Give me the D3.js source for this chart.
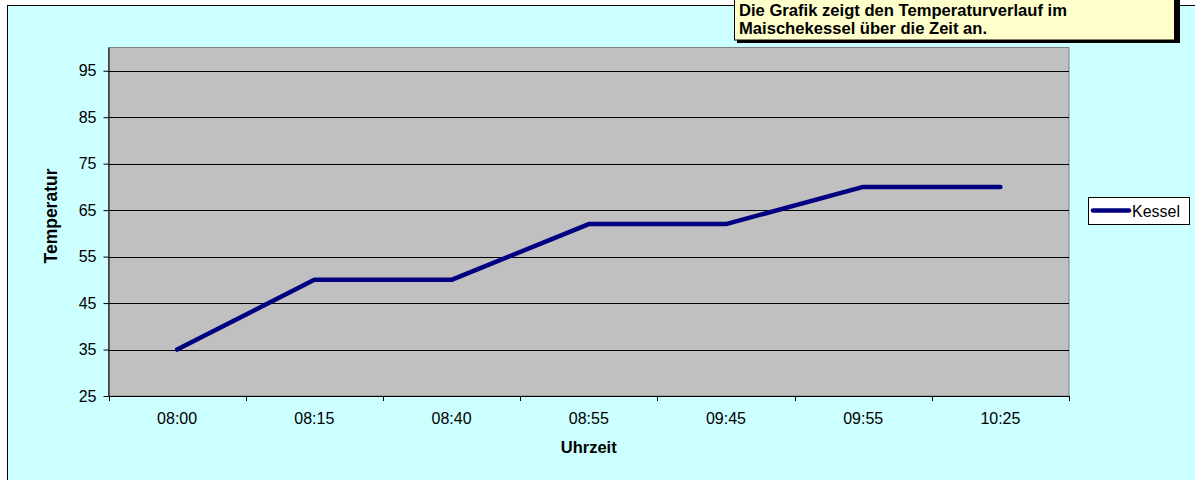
<!DOCTYPE html>
<html><head><meta charset="utf-8">
<script src="https://cdn.jsdelivr.net/npm/d3@7"></script>
<style>body{margin:0;background:#fff;overflow:hidden}svg{display:block;font-family:"Liberation Sans",Arial,sans-serif}</style>
</head><body><svg id="c" width="1195" height="480"></svg>
<script>
const categories = ["08:00","08:15","08:40","08:55","09:45","09:55","10:25"];
const kessel = [35,50,50,62,62,70,70];
const yTicks = [25,35,45,55,65,75,85,95];
const seriesName = "Kessel";
const note = ["Die Grafik zeigt den Temperaturverlauf im","Maischekessel über die Zeit an."];

const svg = d3.select("#c");
svg.append("rect").attr("x",7.5).attr("y",5.5).attr("width",1200).attr("height",490)
  .attr("fill","#ccffff").attr("stroke","#000").attr("stroke-width",1);

const L=108.5,R=1069,T=47.5,B=396;
const x = d3.scaleBand().domain(categories).range([L,R]);
const y = d3.scaleLinear().domain([25,100]).range([B,T]);

svg.append("rect").attr("x",L).attr("y",T).attr("width",R-L).attr("height",B-T)
  .attr("fill","#c0c0c0").attr("stroke","#808080").attr("stroke-width",1);

// gridlines
svg.append("g").selectAll("line").data(yTicks.slice(1)).join("line")
  .attr("x1",L).attr("x2",R).attr("y1",d=>Math.round(y(d))+0.5).attr("y2",d=>Math.round(y(d))+0.5)
  .attr("stroke","#000").attr("stroke-width",1);

// y axis
const ya = svg.append("g").attr("transform",`translate(${L},0)`)
  .call(d3.axisLeft(y).tickValues(yTicks).tickSize(5).tickSizeOuter(0).tickPadding(7));
ya.select(".domain").attr("stroke","#000");
ya.selectAll(".tick line").attr("stroke","#000");
ya.selectAll("text").attr("font-size",16).attr("fill","#000").attr("font-family","Liberation Sans, Arial, sans-serif");

// x axis
const xa = svg.append("g").attr("transform",`translate(0,${B})`)
  .call(d3.axisBottom(x).tickSize(0).tickPadding(17));
xa.select(".domain").attr("stroke","#000");
xa.selectAll("text").attr("font-size",16).attr("fill","#000").attr("font-family","Liberation Sans, Arial, sans-serif");
const bounds = categories.map(c=>x(c)).concat([R]);
svg.append("g").selectAll("line").data(bounds).join("line")
  .attr("x1",d=>Math.round(d)+0.5).attr("x2",d=>Math.round(d)+0.5).attr("y1",B).attr("y2",B+5)
  .attr("stroke","#000");

// line
const line = d3.line().x((d,i)=>x(categories[i])+x.bandwidth()/2).y(d=>y(d));
svg.append("path").datum(kessel).attr("d",line).attr("fill","none")
  .attr("stroke","#000080").attr("stroke-width",4.5).attr("stroke-linejoin","round").attr("stroke-linecap","round");

// axis titles
svg.append("text").attr("x",(L+R)/2).attr("y",453).attr("text-anchor","middle")
  .attr("font-size",16.5).attr("font-weight","bold").text("Uhrzeit");
svg.append("text").attr("transform",`translate(57,216) rotate(-90)`).attr("text-anchor","middle")
  .attr("font-size",17.5).attr("font-weight","bold").text("Temperatur");

// legend
const lg = svg.append("g");
lg.append("rect").attr("x",1088.5).attr("y",197.5).attr("width",101).attr("height",27)
  .attr("fill","#fff").attr("stroke","#000");
lg.append("line").attr("x1",1093).attr("x2",1129).attr("y1",210.5).attr("y2",210.5)
  .attr("stroke","#000080").attr("stroke-width",4.5).attr("stroke-linecap","round");
lg.append("text").attr("x",1132).attr("y",216.5).attr("font-size",16).text(seriesName);

// comment box
const cb = svg.append("g");
cb.append("rect").attr("x",737).attr("y",-5).attr("width",443).attr("height",48).attr("fill","#000");
cb.append("rect").attr("x",734.5).attr("y",-5).attr("width",440).attr("height",45)
  .attr("fill","#ffffcc").attr("stroke","#000");
cb.selectAll("text.n").data(note).join("text").attr("class","n")
  .attr("x",739).attr("y",(d,i)=>15.5+i*18.5).attr("font-size",16.6).attr("font-weight","bold").text(d=>d);
</script></body></html>
